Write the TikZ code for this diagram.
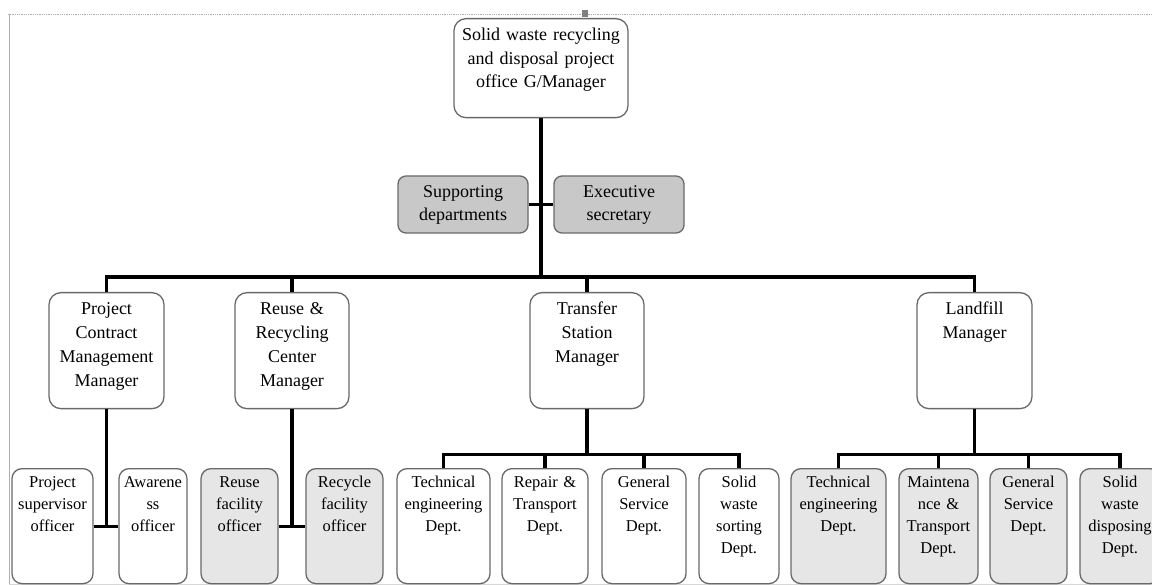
\documentclass[tikz,border=0pt]{standalone}
\usepackage{fontspec}
\setmainfont{Liberation Serif}
\usepackage{tikz}
\usetikzlibrary{calc}
\definecolor{boxline}{RGB}{105,105,105}
\definecolor{staffgray}{RGB}{200,200,200}
\definecolor{unitgray}{RGB}{230,230,230}
\definecolor{framegray}{RGB}{175,175,175}

\begin{document}
\begin{tikzpicture}[x=1pt, y=-1pt,
  headbox/.style={draw=boxline, fill=white, rounded corners=12pt, line width=1.3pt,
                  anchor=north, align=center, inner xsep=0pt, inner ysep=9pt, text width=#1,
                  text height=13pt, text depth=68pt,
                  font=\fontsize{18}{23.5}\selectfont},
  staffbox/.style={draw=boxline, fill=staffgray, rounded corners=8pt, line width=1.3pt,
                   minimum width=130pt, minimum height=57pt, align=center,
                   font=\fontsize{18}{23}\selectfont},
  mgrbox/.style={draw=boxline, fill=white, rounded corners=12pt, line width=1.3pt,
                 anchor=north, align=center, inner xsep=0pt, inner ysep=9pt, text width=#1,
                 text height=13pt, text depth=85pt,
                 font=\fontsize{18}{24}\selectfont},
  unitbox/.style={draw=boxline, fill=white, rounded corners=10pt, line width=1.3pt,
                  anchor=north, align=center, inner xsep=0pt, inner ysep=7pt, text width=#1,
                  text height=12pt, text depth=89pt,
                  font=\fontsize{16.5}{22}\selectfont},
  unitgraybox/.style={unitbox=#1, fill=unitgray},
  link/.style={line width=3.3pt, black},
]
  \useasboundingbox (0,0) rectangle (1152,585);
  \clip (0,0) rectangle (1152,585);

  \draw[framegray, densely dotted, line width=0.8pt] (8,14) -- (1152,14);
  \draw[framegray, line width=0.6pt] (9,14) -- (9,585);
  \draw[framegray!50, line width=0.6pt] (9,584) -- (1152,584);
  \fill[gray] (582,10) rectangle (588,17);

  \node[headbox=174pt] (gm) at (541,18) {Solid waste recycling\\and disposal project\\office G/Manager};
  \node[staffbox] (supdep) at (463,204.5) {Supporting\\departments};
  \node[staffbox] (execsec) at (619,204.5) {Executive\\secretary};

  \node[mgrbox=115pt] (pcm) at (106.5,292) {Project\\Contract\\Management\\Manager};
  \node[mgrbox=114pt] (rrc) at (292,292) {Reuse \&\\Recycling\\Center\\Manager};
  \node[mgrbox=114pt] (tsm) at (587,292) {Transfer\\Station\\Manager};
  \node[mgrbox=115pt] (lfm) at (974.5,292) {Landfill\\Manager};

  \node[unitbox=81pt] (pso) at (52.5,468) {Project\\supervisor\\officer};
  \node[unitbox=68pt] (awo) at (153,468) {Awarene\\ss\\officer};
  \node[unitgraybox=77pt] (rfo) at (239.5,468) {Reuse\\facility\\officer};
  \node[unitgraybox=77pt] (cfo) at (344.5,468) {Recycle\\facility\\officer};

  \node[unitbox=93pt] (tsted) at (443.5,468) {Technical\\engineering\\Dept.};
  \node[unitbox=86pt] (tsrtd) at (545,468) {Repair \&\\Transport\\Dept.};
  \node[unitbox=84pt] (tsgsd) at (644,468) {General\\Service\\Dept.};
  \node[unitbox=80pt] (tsswd) at (739,468) {Solid\\waste\\sorting\\Dept.};

  \node[unitgraybox=95pt] (lfted) at (838.5,468) {Technical\\engineering\\Dept.};
  \node[unitgraybox=79pt] (lfmtd) at (938.5,468) {Maintena\\nce \&\\Transport\\Dept.};
  \node[unitgraybox=77pt] (lfgsd) at (1028.5,468) {General\\Service\\Dept.};
  \node[unitgraybox=80pt] (lfdsd) at (1120,468) {Solid\\waste\\disposing\\Dept.};

  \coordinate (bus) at (541,277);
  \path (tsm.south) ++(0,45) coordinate (tbus);
  \path (lfm.south) ++(0,45) coordinate (lbus);

  \draw[link] (gm.south) -- (bus);
  \draw[link] (supdep.east) -- (execsec.west);
  \draw[link] (pcm.north) |- (bus) -| (lfm.north);
  \draw[link] (rrc.north) -- (rrc.north |- bus);
  \draw[link] (tsm.north) -- (tsm.north |- bus);

  \draw[link] (pcm.south) -- (pcm.south |- pso.east);
  \draw[link] (pso.east) -- (awo.west);
  \draw[link] (rrc.south) -- (rrc.south |- rfo.east);
  \draw[link] (rfo.east) -- (cfo.west);

  \draw[link] (tsm.south) -- (tbus);
  \draw[link] (tsted.north) |- (tbus) -| (tsswd.north);
  \draw[link] (tsrtd.north) -- (tsrtd.north |- tbus);
  \draw[link] (tsgsd.north) -- (tsgsd.north |- tbus);

  \draw[link] (lfm.south) -- (lbus);
  \draw[link] (lfted.north) |- (lbus) -| (lfdsd.north);
  \draw[link] (lfmtd.north) -- (lfmtd.north |- lbus);
  \draw[link] (lfgsd.north) -- (lfgsd.north |- lbus);
\end{tikzpicture}
\end{document}
